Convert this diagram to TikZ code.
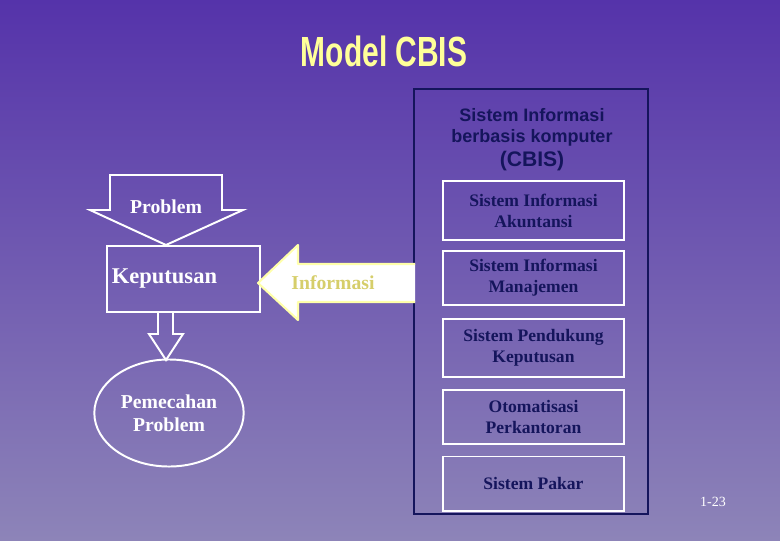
\documentclass[tikz,border=0pt]{standalone}
\usepackage{fontspec}
\setmainfont{Liberation Serif}
\setsansfont{Liberation Sans}
\usetikzlibrary{shapes.geometric}

\definecolor{bgtop}{HTML}{5533AA}
\definecolor{bgbottom}{HTML}{8D84B8}
\definecolor{navy}{HTML}{15155C}
\definecolor{titleyellow}{HTML}{FFFF99}
\definecolor{infoyellow}{HTML}{D6CE6A}
\definecolor{glow}{HTML}{FFFFAA}

\begin{document}
\begin{tikzpicture}[x=0.025cm, y=-0.025cm]
    % Define styles
    \tikzstyle{subsys} = [rectangle, draw=white, line width=1.4pt, text=navy, font=\fontsize{12.5}{15}\selectfont\bfseries, align=center, minimum width=4.525cm, inner sep=0pt]
    \tikzstyle{whiteline} = [draw=white, line width=1.4pt]
    \tikzstyle{whitetext} = [text=white, font=\fontsize{14}{16.4}\selectfont\bfseries, align=center]

    % Background
    \shade[top color=bgtop, bottom color=bgbottom] (0,0) rectangle (780,540);
    \useasboundingbox (0,0) rectangle (780,540);

    % Title
    \node[text=titleyellow, font=\sffamily\bfseries\fontsize{30}{36}\selectfont] (title) at (384,51) {\scalebox{0.71}[1]{Model CBIS}};

    % CBIS frame
    \node[draw=navy, line width=1.4pt, minimum width=5.825cm, minimum height=10.625cm] (cbis) at (531,301.5) {};
    \node[text=navy, font=\sffamily\bfseries\fontsize{12.8}{14.4}\selectfont, align=center] (cbistitle) at (532,140) {
        Sistem Informasi\\
        berbasis komputer\\[3pt]
        {\fontsize{15}{16}\selectfont (CBIS)}
    };

    % Subsystems
    \node[subsys, minimum height=1.475cm] (sia) at (533.5,210.5) {Sistem Informasi\\Akuntansi};
    \node[subsys, minimum height=1.35cm] (sim) at (533.5,278) {Sistem Informasi\\Manajemen};
    \node[subsys, minimum height=1.45cm] (spk) at (533.5,348) {Sistem Pendukung\\Keputusan};
    \node[subsys, minimum height=1.35cm] (oa) at (533.5,417) {Otomatisasi\\Perkantoran};
    \node[subsys, minimum height=1.35cm] (es) at (533.5,483.5) {Sistem Pakar};

    % Problem arrow
    \draw[whiteline] (110,175) -- (222,175) -- (222,210) -- (243,210) -- (166,245) -- (90,210) -- (110,210) -- cycle;
    \node[whitetext] (problem) at (166,207) {Problem};

    % Decision
    \node[rectangle, whiteline, text width=3.575cm, inner xsep=0.125cm, align=left, minimum height=1.65cm, text=white, font=\fontsize{16}{18}\selectfont\bfseries] (keputusan) at (183.5,279) {Keputusan};

    % Solution arrow
    \draw[whiteline] (158,312) -- (158,334) -- (149,334) -- (166,360) -- (183,334) -- (173,334) -- (173,312);

    % Solution
    \node[ellipse, whiteline, minimum width=3.25cm, minimum height=2.675cm, whitetext] (pemecahan) at (169,413) {Pemecahan\\Problem};

    % Information arrow
    \filldraw[fill=white, draw=glow, line width=1.5pt, line join=round] (415,264) -- (298,264) -- (298,245) -- (258,283) -- (298,320) -- (298,302) -- (415,302);
    \node[text=infoyellow, font=\fontsize{14}{16}\selectfont\bfseries] (informasi) at (333,283) {Informasi};

    % Page number
    \node[text=white, font=\fontsize{10}{12}\selectfont] (page) at (713,502) {1-23};
\end{tikzpicture}
\end{document}
